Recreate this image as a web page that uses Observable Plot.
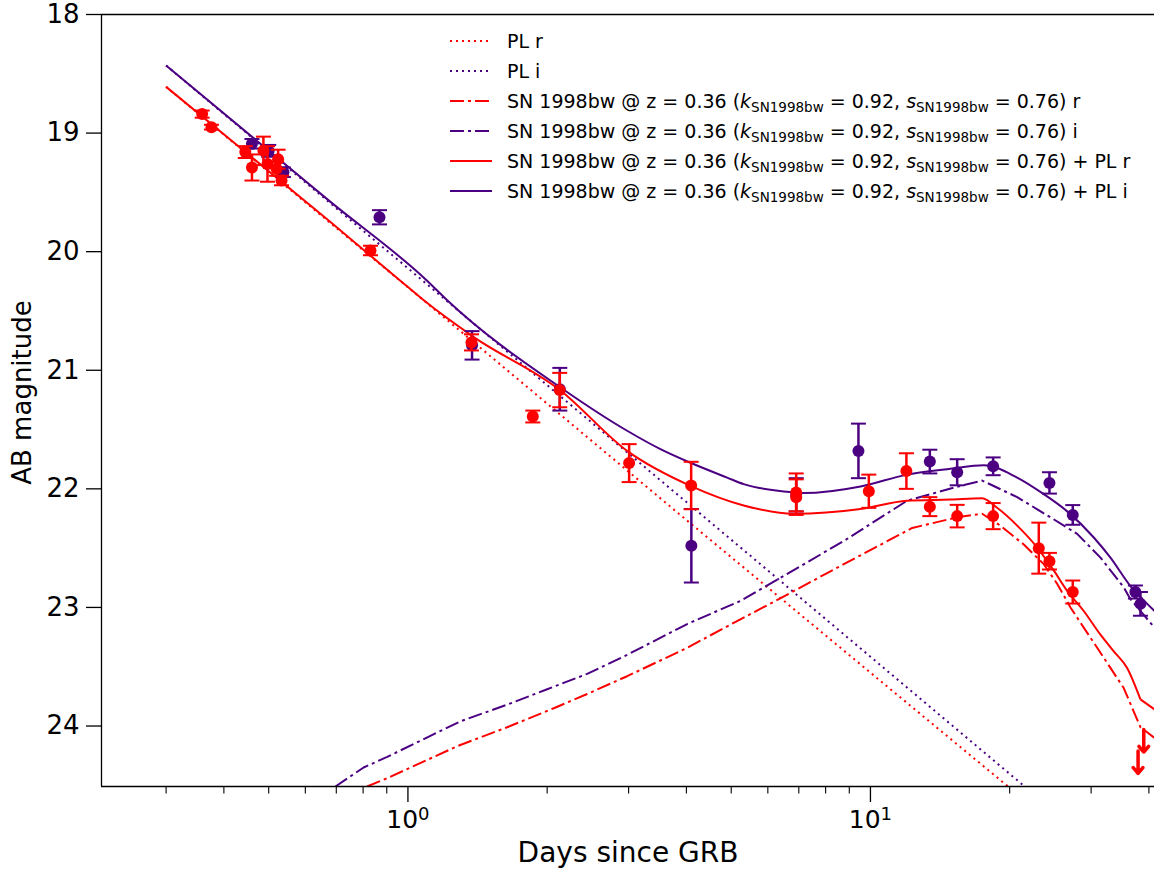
<!DOCTYPE html>
<html><head><meta charset="utf-8">
<script src="https://cdn.jsdelivr.net/npm/d3@7"></script>
<script src="https://cdn.jsdelivr.net/npm/@observablehq/plot@0.6"></script>
<style>
body{margin:0;background:#fff;font-family:"DejaVu Sans",sans-serif;}
#wrap{position:relative;width:1154px;height:871px;overflow:hidden;background:#fff;}
#legend{position:absolute;left:450px;top:26px;font-size:19px;color:#000;font-family:"DejaVu Sans",sans-serif;}
.row{height:30px;display:flex;align-items:center;white-space:nowrap;}
.row svg{width:42px;height:10px;margin-right:15px;flex:none;}
.sub{font-size:13.5px;position:relative;top:4px;}
</style></head><body><div id="wrap"></div>
<script>
// ---------- data ----------
const xDomain = [0.2175, 41.13];
const yDomain = [18, 24.51];
const yTicks = [18, 19, 20, 21, 22, 23, 24];
const xMajorTicks = [1, 10];
const xMinorTicks = [0.3,0.4,0.5,0.6,0.7,0.8,0.9,2,3,4,5,6,7,8,9,20,30,40];
const xLabel = "Days since GRB";
const yLabel = "AB magnitude";

// power-law models [days, mag]
const plR = [[0.30,18.61],[1.0,20.30],[3.88,22.22],[10,23.55],[19.7,24.50],[26,24.88]];
const plI = [[0.30,18.43],[1.0,20.14],[6.18,22.73],[21.4,24.50],[26,24.78]];
// SN 1998bw template (r, i)
const snR = [[0.816,24.51],[0.902,24.44],[1.278,24.17],[1.639,24.01],[2.067,23.85],[2.441,23.73],[2.978,23.58],[4.016,23.34],[5.235,23.10],[6.232,22.945],[8.757,22.635],[12.31,22.33],[15.40,22.24],[17.44,22.21],[19.10,22.31],[21.46,22.47],[23.70,22.635],[25.33,22.80],[27.07,23.00],[28.92,23.17],[30.92,23.34],[33.03,23.51],[35.29,23.68],[38.35,24.01],[41.13,24.10]];
const snI = [[0.697,24.51],[0.802,24.35],[0.902,24.26],[1.299,23.96],[1.639,23.82],[2.0,23.69],[2.441,23.56],[2.978,23.40],[4.016,23.14],[5.235,22.945],[8.757,22.44],[12.0,22.10],[15.14,21.99],[17.44,21.93],[20.76,22.07],[24.50,22.24],[27.99,22.38],[31.43,22.58],[35.29,22.83],[36.49,22.93],[41.13,23.17]];
// SN + PL
const sumR = [[0.30,18.61],[0.68,19.75],[0.963,20.245],[1.082,20.41],[1.388,20.72],[2.137,21.17],[2.978,21.68],[4.082,21.975],[5.32,22.14],[6.83,22.21],[9.52,22.17],[12.0,22.10],[14.89,22.09],[17.44,22.08],[18.79,22.16],[20.76,22.31],[22.94,22.495],[24.92,22.69],[26.63,22.86],[28.92,23.03],[31.43,23.23],[33.58,23.37],[35.89,23.51],[38.35,23.775]];
const sumRTail = [[38.35,23.775],[41.13,23.86]];
const sumI = [[0.30,18.43],[0.68,19.58],[1.10,20.245],[1.216,20.41],[2.137,21.145],[2.978,21.51],[3.515,21.665],[4.082,21.78],[4.90,21.905],[5.32,21.96],[6.83,22.03],[7.18,22.036],[9.52,21.98],[12.0,21.88],[14.89,21.83],[17.58,21.80],[20.76,21.905],[23.70,22.045],[26.63,22.19],[30.40,22.41],[33.03,22.58],[36.49,22.82],[39.67,22.97],[41.13,23.03]];
// observations [days, mag, err]
const obsI = [[0.460,19.09,0.04],[0.500,19.15,0.05],[0.538,19.33,0.04],[0.868,19.71,0.06],[1.376,20.79,0.12],[2.13,21.16,0.18],[4.10,22.48,0.31],[6.91,22.05,0.14],[9.42,21.68,0.23],[13.44,21.77,0.10],[15.4,21.86,0.11],[18.42,21.81,0.075],[24.38,21.95,0.09],[27.38,22.22,0.083],[37.4,22.87,0.055],[38.35,22.97,0.10]];
const obsR = [[0.359,18.84,0.03],[0.376,18.95,0.02],[0.445,19.16,0.05],[0.460,19.29,0.11],[0.487,19.15,0.12],[0.497,19.26,0.15],[0.524,19.22,0.08],[0.520,19.30,0.06],[0.533,19.40,0.04],[0.830,19.99,0.04],[1.372,20.765,0.068],[1.862,21.39,0.05],[2.129,21.167,0.145],[3.008,21.783,0.16],[4.096,21.972,0.20],[6.91,22.03,0.16],[6.91,22.07,0.15],[9.92,22.02,0.14],[11.96,21.85,0.15],[13.44,22.15,0.08],[15.4,22.23,0.095],[18.42,22.23,0.11],[23.12,22.50,0.215],[24.38,22.61,0.07],[27.38,22.87,0.097]];
// upper limits r [days, mag]
const limR = [[37.9,24.21],[38.99,24.03]];
const limLen = 0.19;

const RED = "#ff0000", IND = "#4b0082";
const DOT = "2,4", DASHDOT = "14,4,3,4";

// ---------- chart ----------
const capSym = {draw(ctx){ctx.moveTo(-7.5,0);ctx.lineTo(7.5,0);}};
const ln = (arr, color, dash, curve) => Plot.line(arr, {x:d=>d[0], y:d=>d[1], stroke:color, strokeWidth:2, strokeDasharray:dash, strokeLinecap:"butt", strokeLinejoin:"round", curve: curve || "linear", clip:true});
const errs = (arr, color) => [
  Plot.ruleX(arr, {x:d=>d[0], y1:d=>d[1]-d[2], y2:d=>d[1]+d[2], stroke:color, strokeWidth:2.5}),
  Plot.dot(arr, {x:d=>d[0], y:d=>d[1]-d[2], symbol:capSym, r:5, fill:"none", stroke:color, strokeWidth:2}),
  Plot.dot(arr, {x:d=>d[0], y:d=>d[1]+d[2], symbol:capSym, r:5, fill:"none", stroke:color, strokeWidth:2}),
  Plot.dot(arr, {x:d=>d[0], y:d=>d[1], r:6, fill:color, stroke:"none"})
];

const chart = Plot.plot({
  width: 1154, height: 871,
  marginLeft: 101, marginRight: 0, marginTop: 14, marginBottom: 85,
  style: {fontFamily:"DejaVu Sans, sans-serif", background:"white", overflow:"visible", color:"black"},
  x: {type:"log", domain:xDomain},
  y: {domain:yDomain, reverse:true},
  marks: [
    ln(plR, RED, DOT), ln(plI, IND, DOT),
    ln(snR, RED, DASHDOT), ln(snI, IND, DASHDOT),
    ln(sumR, RED, null, "monotone-x"), ln(sumRTail, RED, null), ln(sumI, IND, null, "monotone-x"),
    ...errs(obsI, IND),
    ...errs(obsR, RED),
    Plot.arrow(limR, {x1:d=>d[0], y1:d=>d[1], x2:d=>d[0], y2:d=>d[1]+limLen, stroke:RED, strokeWidth:3.5, headLength:11, headAngle:80}),
    Plot.ruleY([yDomain[0]], {stroke:"black", strokeWidth:1.3}),
    Plot.ruleY([yDomain[1]], {stroke:"black", strokeWidth:1.3}),
    Plot.ruleX([xDomain[0]], {stroke:"black", strokeWidth:1.3}),
    Plot.axisY({ticks:yTicks, tickSize:15, tickPadding:7, fontSize:26, label:null, strokeWidth:1.3, tickFormat:d=>String(d)}),
    Plot.axisX({ticks:xMajorTicks, tickSize:16, tickPadding:8, fontSize:25, label:null, strokeWidth:1.3,
      tickFormat:d=>"10^"+Math.round(Math.log10(d))}),
    Plot.axisX({ticks:xMinorTicks, tickSize:7.5, tickFormat:()=>"", label:null, strokeWidth:1.1}),
    Plot.text([xLabel], {text:d=>d, frameAnchor:"bottom", dy:67, fontSize:28, textAnchor:"middle", lineAnchor:"middle"}),
    Plot.text([yLabel], {text:d=>d, frameAnchor:"left", dx:-79, dy:-8, rotate:-90, fontSize:26, textAnchor:"middle", lineAnchor:"middle"})
  ]
});

// superscript exponents on the x tick labels
chart.querySelectorAll("text").forEach(t => {
  const s = t.textContent;
  if (/^10\^\d$/.test(s)) {
    const [b, e] = s.split("^");
    t.textContent = b;
    const ts = document.createElementNS("http://www.w3.org/2000/svg","tspan");
    ts.setAttribute("dy","-0.45em");
    ts.setAttribute("font-size","18");
    ts.textContent = e;
    t.appendChild(ts);
  }
});

const wrap = document.getElementById("wrap");
wrap.appendChild(chart);

// legend
const snTxt = 'SN 1998bw @ z = 0.36 (<i>k</i><span class="sub">SN1998bw</span> = 0.92, <i>s</i><span class="sub">SN1998bw</span> = 0.76)';
const legendRows = [
  [RED, DOT, "PL r"],
  [IND, DOT, "PL i"],
  [RED, DASHDOT, snTxt + " r"],
  [IND, DASHDOT, snTxt + " i"],
  [RED, null, snTxt + " + PL r"],
  [IND, null, snTxt + " + PL i"]
];
const lg = document.createElement("div");
lg.id = "legend";
lg.innerHTML = legendRows.map(([c, dash, txt]) =>
  `<div class="row"><svg viewBox="0 0 42 10"><line x1="0" y1="5" x2="42" y2="5" stroke="${c}" stroke-width="2" ${dash ? `stroke-dasharray="${dash}"` : ""}/></svg><span>${txt}</span></div>`
).join("");
wrap.appendChild(lg);
</script></body></html>
